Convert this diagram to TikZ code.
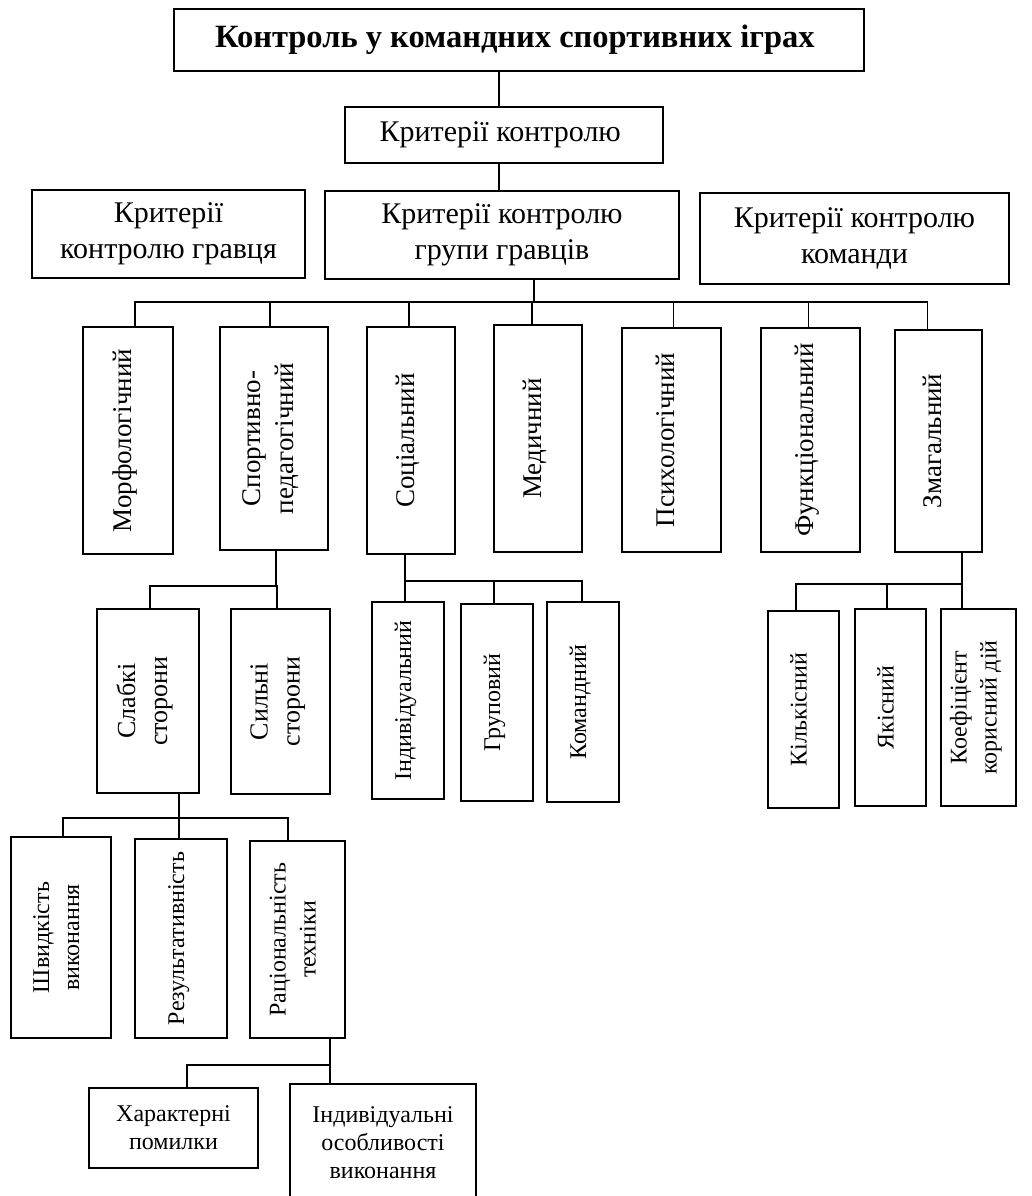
\documentclass[tikz,border=0pt]{standalone}
\usepackage{fontspec}
\setmainfont{Liberation Serif}
\usepackage{graphicx}
\usepackage{tikz}
\usetikzlibrary{shapes,arrows,positioning}
\newcommand{\vlab}[1]{\rotatebox{90}{\begin{tabular}{@{}c@{}}#1\end{tabular}}}
\tikzset{
  every node/.style={
    font=\fontsize{27}{33}\selectfont
  },
  block/.style 2 args={
    shape=rectangle,
    draw=black,
    line width=1.5pt,
    minimum width=#1,
    minimum height=#2,
    inner sep=0pt,
    align=center
  },
  bigtext/.style={
    font=\fontsize{30}{36}\selectfont
  },
  midtext/.style={
    font=\fontsize{26}{32}\selectfont
  },
  smalltext/.style={
    font=\fontsize{24}{28}\selectfont
  },
  smallvert/.style={
    font=\fontsize{24}{30}\selectfont
  },
  link/.style={
    line width=1.5pt
  }
}

\begin{document}
\begin{tikzpicture}[x=1pt,y=-1pt]
    \useasboundingbox (0,0) rectangle (1032,1196);
    \clip (0,0) rectangle (1032,1196);
    \node [block={690}{62}, font=\fontsize{32.5}{36}\selectfont\bfseries] (ctrl) at (519,40) {
      Контроль у командних спортивних іграх };
    \node [block={318}{56}, bigtext] (crit) at (504,135) { Критерії контролю };
    \node [block={273}{88}, bigtext] (player) at (168.5,234) { Критерії\\контролю гравця };
    \node [block={354}{88}, bigtext] (grp) at (502,235) { Критерії контролю\\групи гравців };
    \node [block={309}{91}, bigtext] (team) at (854.5,238.5) { Критерії контролю\\команди };

    \node [block={90}{227}] (morf) at (128,440.5) { \vlab{Морфологічний} };
    \node [block={108}{223}] (sport) at (274,438.5) { \vlab{Спортивно-\\педагогічний} };
    \node [block={88}{227}] (soc) at (411,440.5) { \vlab{Соціальний} };
    \node [block={88}{227}] (med) at (538,438.5) { \vlab{Медичний} };
    \node [block={99}{224}] (psy) at (671.5,440) { \vlab{Психологічний} };
    \node [block={99}{224}] (func) at (810.5,440) { \vlab{Функціональний} };
    \node [block={87}{222}] (zmag) at (938.5,441) { \vlab{Змагальний} };

    \node [block={102}{184}, midtext] (weak) at (148,701) { \vlab{Слабкі\\сторони} };
    \node [block={99}{185}, midtext] (strong) at (280.5,701.5) { \vlab{Сильні\\сторони} };
    \node [block={72}{197}, smallvert] (indiv) at (408,700.5) { \vlab{Індивідуальний} };
    \node [block={72}{197}, smallvert] (group) at (497,702.5) { \vlab{Груповий} };
    \node [block={72}{200}, smallvert] (command) at (583,702) { \vlab{Командний} };
    \node [block={71}{197}, smallvert] (quant) at (803.5,709.5) { \vlab{Кількісний} };
    \node [block={71}{197}, smallvert] (qual) at (890.5,707.5) { \vlab{Якісний} };
    \node [block={75}{197}, smallvert] (coef) at (978.5,707.5) { \vlab{Коефіцієнт\\корисний дій} };

    \node [block={100}{201}, smallvert] (speed) at (61,937.5) { \vlab{Швидкість\\виконання} };
    \node [block={92}{199}, smallvert] (result) at (181,938.5) { \vlab{Результативність} };
    \node [block={95}{197}, smallvert] (ratio) at (297.5,939.5) { \vlab{Раціональність\\техніки} };

    \node [block={169}{80}, smalltext] (errors) at (173.5,1128) { Характерні\\помилки };
    \node [block={186}{118}, smalltext] (feat) at (383,1143) { Індивідуальні\\особливості\\виконання };

    \coordinate (ax) at ([xshift=-5]crit.north);
    \draw [link] (ax) -- (ax |- ctrl.south);
    \draw [link] (ax |- crit.south) -- (ax |- grp.north);

    \draw [link] ([xshift=32]grp.south) -- ++(0,22) coordinate (b2);
    \foreach \n/\dx in {morf/7, sport/-4, soc/-2, med/-6, psy/2, func/-2, zmag/-11}
      \draw [link] (b2) -| ([xshift=\dx]\n.north);

    \draw [link] ([xshift=2]sport.south) -- ++(0,35) coordinate (b3);
    \foreach \n/\dx in {weak/2, strong/-3.5}
      \draw [link] (b3) -| ([xshift=\dx]\n.north);

    \draw [link] ([xshift=-6]soc.south) -- ++(0,26) coordinate (b4);
    \foreach \n/\dx in {indiv/-3, group/-3, command/-1}
      \draw [link] (b4) -| ([xshift=\dx]\n.north);

    \draw [link] ([xshift=23.5]zmag.south) -- ++(0,31) coordinate (b5);
    \foreach \n/\dx in {quant/-7.5, qual/-3.5, coef/-16.5}
      \draw [link] (b5) -| ([xshift=\dx]\n.north);

    \draw [link] ([xshift=31]weak.south) -- ++(0,24) coordinate (b6);
    \foreach \n/\dx in {speed/2, result/-2, ratio/-9.5}
      \draw [link] (b6) -| ([xshift=\dx]\n.north);

    \draw [link] ([xshift=32.5]ratio.south) -- ++(0,26) coordinate (b7);
    \foreach \n/\dx in {errors/13.5, feat/-53}
      \draw [link] (b7) -| ([xshift=\dx]\n.north);
\end{tikzpicture}
\end{document}
